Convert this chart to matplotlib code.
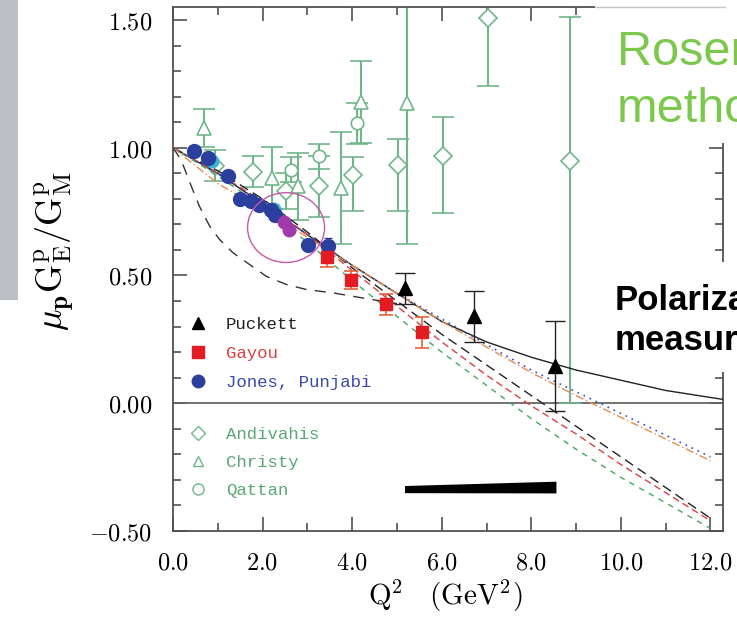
import matplotlib
matplotlib.use('Agg')
import matplotlib.pyplot as plt
import matplotlib.ticker as mt
from matplotlib.patches import Rectangle, Ellipse
from matplotlib.lines import Line2D
import numpy as np

plt.rcParams['mathtext.fontset'] = 'cm'

# ---------------- data ----------------
# Polarization transfer data
puckett_x = [5.17, 6.73, 8.52]
puckett_y = [0.45, 0.34, 0.145]
puckett_err = [0.06, 0.10, 0.175]

gayou_x = [3.45, 3.98, 4.76, 5.57]
gayou_y = [0.574, 0.484, 0.387, 0.277]
gayou_err = [0.04, 0.035, 0.04, 0.06]

jones_x = [0.48, 0.78, 1.22, 1.49, 1.75, 1.93, 2.19, 2.27, 3.01, 3.46]
jones_y = [0.986, 0.96, 0.888, 0.80, 0.79, 0.777, 0.758, 0.738, 0.621, 0.615]
jones_err = [0.02, 0.02, 0.02, 0.02, 0.02, 0.02, 0.02, 0.02, 0.02, 0.03]

other_cyan_x = [0.88, 2.25]
other_cyan_y = [0.95, 0.76]
other_mag_x = [2.47, 2.6]
other_mag_y = [0.71, 0.68]

# Rosenbluth data
andiv_x = [0.93, 1.78, 2.53, 3.25, 4.02, 5.03, 6.03, 7.03, 8.86]
andiv_y = [0.93, 0.907, 0.83, 0.849, 0.894, 0.934, 0.966, 1.507, 0.947]
andiv_lo = [0.06, 0.06, 0.07, 0.12, 0.14, 0.18, 0.22, 0.265, 0.947]
andiv_hi = [0.06, 0.06, 0.07, 0.12, 0.07, 0.10, 0.155, 0.265, 0.566]

christy_x = [0.69, 2.22, 2.79, 3.76, 4.20, 5.23]
christy_y = [1.077, 0.882, 0.849, 0.842, 1.18, 1.175]
christy_err = [0.075, 0.12, 0.13, 0.22, 0.16, 0.55]

qattan_x = [2.64, 3.25, 4.10]
qattan_y = [0.914, 0.966, 1.096]
qattan_err = [0.05, 0.05, 0.08]

# theory curves
curve_x = [0, 1, 2, 3, 4, 5, 6, 7, 8, 9, 10, 11, 12]
solid_x = [0, 0.5, 1, 1.5, 2, 2.5, 3, 3.5, 4, 5, 6, 7, 8, 9, 10, 11, 12.28]
solid_y = [1.0, 0.95, 0.9, 0.84, 0.78, 0.72, 0.66, 0.6, 0.54, 0.43, 0.32, 0.24, 0.18, 0.13, 0.09, 0.05, 0.015]
dash_black_y = [1.0, 0.91, 0.8, 0.67, 0.53, 0.4, 0.27, 0.15, 0.03, -0.09, -0.21, -0.33, -0.45]
dash_red_y = [1.0, 0.9, 0.79, 0.66, 0.52, 0.38, 0.24, 0.11, -0.01, -0.12, -0.24, -0.35, -0.46]
dash_green_y = [1.0, 0.89, 0.77, 0.63, 0.48, 0.34, 0.20, 0.07, -0.06, -0.18, -0.29, -0.39, -0.49]
dot_blue_y = [1.0, 0.9, 0.78, 0.66, 0.54, 0.43, 0.33, 0.23, 0.13, 0.045, -0.04, -0.125, -0.21]
dashdot_orange_y = [1.0, 0.86, 0.76, 0.65, 0.54, 0.43, 0.32, 0.22, 0.12, 0.03, -0.055, -0.14, -0.225]
low_dash_x = [0, 0.18, 0.41, 0.59, 0.82, 1.04, 1.34, 1.71, 2.08, 2.53, 2.98, 3.57, 4.3, 5.0]
low_dash_y = [1.0, 0.953, 0.849, 0.771, 0.693, 0.641, 0.589, 0.543, 0.497, 0.465, 0.445, 0.432, 0.41, 0.39]

# projected uncertainty band
proj_x = [5.17, 8.55]
proj_y = [-0.336, -0.328]
proj_hw = [0.014, 0.023]

# annotation circle
circ_center = (2.525, 0.6875)
circ_w, circ_h = 1.72, 0.273

xticks = [0, 2, 4, 6, 8, 10, 12]
xtick_labels = ['0.0', '2.0', '4.0', '6.0', '8.0', '10.0', '12.0']
yticks = [-0.5, 0.0, 0.5, 1.0, 1.5]
ytick_labels = ['-0.50', '0.00', '0.50', '1.00', '1.50']

# ---------------- styles ----------------
GREEN = '#6fb68a'
BLUE = '#2b3f9e'
RED = '#e31b23'
SPINE = '#505050'

fig = plt.figure(figsize=(7.37, 6.17), dpi=100)
ax = fig.add_axes([0.2347, 0.1394, 0.7463, 0.8493])
ax.set_xlim(0, 12.28)
ax.set_ylim(-0.5, 1.551)

# theory curves
ax.plot(solid_x, solid_y, color='#222222', lw=1.0, zorder=3)
ax.plot(curve_x, dash_black_y, color='#222222', lw=1.0, ls=(0, (7, 4)), zorder=3)
ax.plot(curve_x, dash_red_y, color='#e04040', lw=1.0, ls=(0, (5, 3)), zorder=3)
ax.plot(curve_x, dash_green_y, color='#40a860', lw=1.0, ls=(0, (4, 4)), zorder=3)
ax.plot(curve_x, dot_blue_y, color='#3050c0', lw=1.2, ls=(0, (1, 3)), zorder=3)
ax.plot(curve_x, dashdot_orange_y, color='#e88a50', lw=1.0, ls=(0, (6, 2, 1, 2)), zorder=3)
ax.plot(low_dash_x, low_dash_y, color='#333333', lw=1.0, ls=(0, (8, 6)), zorder=3)

ax.axhline(0, color='#666666', lw=1.3, zorder=2)

# Rosenbluth data
ax.errorbar(andiv_x, andiv_y, yerr=[andiv_lo, andiv_hi], fmt='D', mfc='white', mec=GREEN,
            ecolor=GREEN, ms=9, mew=1.2, capsize=8, elinewidth=1.5, capthick=1.3, zorder=2)
ax.errorbar(christy_x, christy_y, yerr=christy_err, fmt='^', mfc='white', mec=GREEN,
            ecolor=GREEN, ms=10, mew=1.2, capsize=8, elinewidth=1.5, capthick=1.3, zorder=2)
ax.errorbar(qattan_x, qattan_y, yerr=qattan_err, fmt='o', mfc='white', mec=GREEN,
            ecolor=GREEN, ms=9, mew=1.2, capsize=8, elinewidth=1.5, capthick=1.3, zorder=2)

# polarization data
ax.plot(other_cyan_x, other_cyan_y, 'o', color='#3ab4d4', ms=9, zorder=4)
ax.errorbar(jones_x, jones_y, yerr=jones_err, fmt='o', color=BLUE, ecolor=BLUE, ms=10,
            capsize=3, elinewidth=1, zorder=5)
ax.plot(other_mag_x, other_mag_y, 'o', color='#a03aa8', ms=9, zorder=6)
ax.errorbar(gayou_x, gayou_y, yerr=gayou_err, fmt='s', color=RED, ecolor='#e8603a', ms=9,
            capsize=5, elinewidth=1.2, capthick=1.2, zorder=5)
ax.errorbar(puckett_x, puckett_y, yerr=puckett_err, fmt='^', color='black', ecolor='#222222',
            ms=10, capsize=7, elinewidth=1.0, capthick=1.0, zorder=5)

# projected band
ax.fill_between(proj_x, np.subtract(proj_y, proj_hw), np.add(proj_y, proj_hw),
                color='black', lw=0, zorder=4)

# annotation circle
ax.add_patch(Ellipse(circ_center, circ_w, circ_h, fill=False, ec='#c65aa6', lw=1.0, zorder=6))

# legends
leg_font = {'family': 'Liberation Mono', 'size': 12.5}
h1 = [Line2D([], [], ls='', marker='^', color='black', ms=8),
      Line2D([], [], ls='', marker='s', color=RED, ms=8),
      Line2D([], [], ls='', marker='o', color=BLUE, ms=9)]
leg1 = ax.legend(h1, ['Puckett', 'Gayou', 'Jones, Punjabi'], loc='upper left',
                 bbox_to_anchor=(0.03, 0.408), frameon=False, prop=leg_font,
                 labelcolor=['#222222', '#d84040', '#3a48a8'], handlelength=1.0,
                 handletextpad=1.1, labelspacing=0.78, borderpad=0, borderaxespad=0)
ax.add_artist(leg1)
h2 = [Line2D([], [], ls='', marker='D', mfc='white', mec=GREEN, ms=7),
      Line2D([], [], ls='', marker='^', mfc='white', mec=GREEN, ms=7),
      Line2D([], [], ls='', marker='o', mfc='white', mec=GREEN, ms=8)]
ax.legend(h2, ['Andivahis', 'Christy', 'Qattan'], loc='upper left',
          bbox_to_anchor=(0.03, 0.198), frameon=False, prop=leg_font,
          labelcolor=['#5aa878'] * 3, handlelength=1.0,
          handletextpad=1.1, labelspacing=0.72, borderpad=0, borderaxespad=0)

# ticks
ax.set_xticks(xticks, labels=['$' + t + '$' for t in xtick_labels])
ax.set_yticks(yticks, labels=['$' + t + '$' for t in ytick_labels])
ax.xaxis.set_minor_locator(mt.MultipleLocator(1))
ax.yaxis.set_minor_locator(mt.MultipleLocator(0.1))
ax.tick_params(which='both', direction='in', top=True, right=True, color=SPINE, width=1.2)
ax.tick_params(which='major', length=10)
ax.tick_params(which='minor', length=5.5)
ax.tick_params(axis='y', labelsize=17.5, pad=15)
ax.tick_params(axis='x', labelsize=17.5, pad=14)
for s in ax.spines.values():
    s.set_color(SPINE)
    s.set_linewidth(1.3)

ax.set_xlabel(r'$\mathrm{Q}^2\quad(\mathrm{GeV}^2)$', fontsize=21)
ax.xaxis.set_label_coords(0.495, -0.090)
ax.set_ylabel(r'$\mu_{\mathbf{p}}\mathrm{G}^{\mathrm{p}}_{\mathrm{E}}/\mathrm{G}^{\mathrm{p}}_{\mathrm{M}}$', fontsize=26)
ax.yaxis.set_label_coords(-0.176, 0.535)

# slide overlays
W, H = 737.0, 617.0
fig.add_artist(Rectangle((0, 1 - 300 / H), 18 / W, 300 / H, transform=fig.transFigure,
                         facecolor='#bcbfc6', edgecolor='none', zorder=10))
fig.add_artist(Rectangle((595 / W, 1 - 143 / H), (W - 595) / W, (143 - 4) / H,
                         transform=fig.transFigure, facecolor='white', edgecolor='none', zorder=10))
fig.add_artist(Line2D([595 / W, 725 / W], [1 - 7 / H, 1 - 7 / H], transform=fig.transFigure,
                      color='#c4c4c4', lw=1.0, zorder=10.5))
fig.add_artist(Rectangle((612 / W, 1 - 372 / H), (W - 612) / W, (372 - 262) / H,
                         transform=fig.transFigure, facecolor='white', edgecolor='none', zorder=10))
fig.text(617 / W, 1 - 65 / H, 'Rosenbluth', color='#7cc84c', fontsize=35,
         family='Liberation Sans', va='baseline', zorder=11)
fig.text(617 / W, 1 - 122 / H, 'method', color='#7cc84c', fontsize=35,
         family='Liberation Sans', va='baseline', zorder=11)
fig.text(615 / W, 1 - 310 / H, 'Polarization', color='black', fontsize=25, weight='bold',
         family='Liberation Sans', va='baseline', zorder=11)
fig.text(615 / W, 1 - 350 / H, 'measurement', color='black', fontsize=25, weight='bold',
         family='Liberation Sans', va='baseline', zorder=11)

fig.savefig('out.png', dpi=100)
